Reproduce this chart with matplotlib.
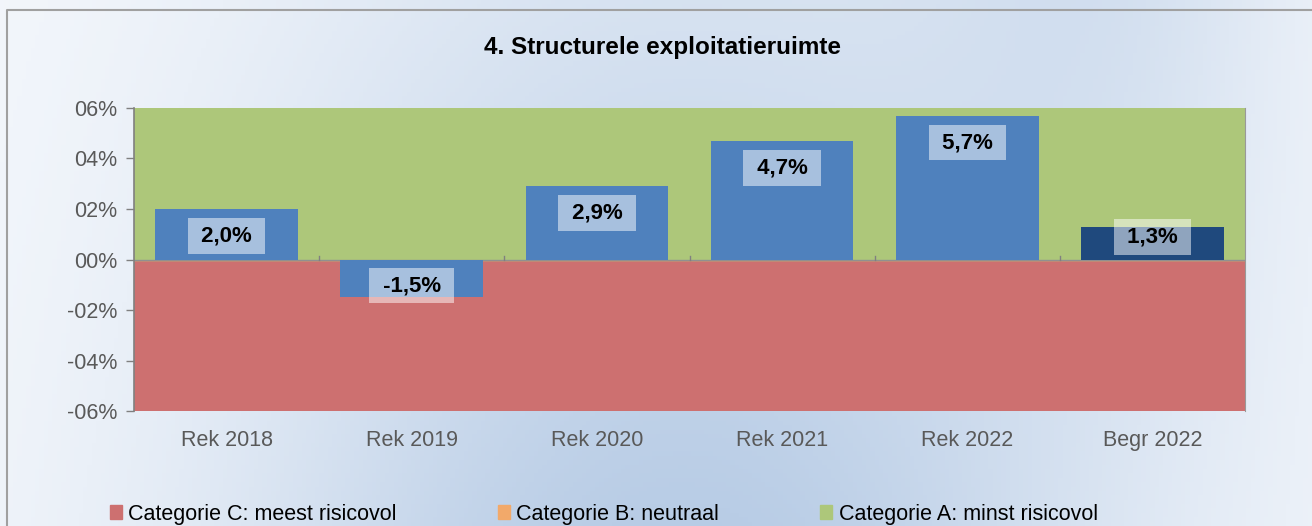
import matplotlib.pyplot as plt
import numpy as np

plt.rcParams['font.family'] = ['Liberation Sans', 'DejaVu Sans']

categories = ["Rek 2018", "Rek 2019", "Rek 2020", "Rek 2021", "Rek 2022", "Begr 2022"]
values = [2.0, -1.5, 2.9, 4.7, 5.7, 1.3]
value_labels = ["2,0%", "-1,5%", "2,9%", "4,7%", "5,7%", "1,3%"]
bar_colors = ["#4F81BD", "#4F81BD", "#4F81BD", "#4F81BD", "#4F81BD", "#1F497D"]
y_ticks = [-6, -4, -2, 0, 2, 4, 6]
y_tick_labels = ["-06%", "-04%", "-02%", "00%", "02%", "04%", "06%"]
band_labels = ["Categorie C: meest risicovol", "Categorie B: neutraal", "Categorie A: minst risicovol"]
band_colors = ["#CD7070", "#F2A96A", "#ADC77A"]

fig = plt.figure(figsize=(13.12, 5.26), dpi=100)

# background gradient
bg = fig.add_axes([0, 0, 1, 1], zorder=-10)
xx, yy = np.meshgrid(np.linspace(0, 1, 300), np.linspace(0, 1, 120))
f = np.exp(-((xx - 0.52) / 0.36) ** 2) * (0.5 + 0.5 * yy)
f = np.clip(f + 0.35 * np.exp(-((xx - 0.85) / 0.15) ** 2) * (1 - yy), 0, 1)
light = np.array([0.965, 0.975, 0.99])
blue = np.array([0.72, 0.80, 0.90])
img = light[None, None, :] * (1 - f[..., None]) + blue[None, None, :] * f[..., None]
bg.imshow(img, aspect='auto', extent=[0, 1, 0, 1], origin='upper')
bg.plot([0.0055, 0.0055, 1.0], [0.0, 0.981, 0.981], color='#A0A0A0', lw=1.5)
bg.set_xlim(0, 1)
bg.set_ylim(0, 1)
bg.axis('off')

ax = fig.add_axes([0.1021, 0.2186, 0.847, 0.5761])
ax.set_facecolor('none')

x = np.arange(len(categories))
ax.axhspan(-6, 0, color=band_colors[0], zorder=0, label=band_labels[0])
ax.axhspan(0, 0, color=band_colors[1], zorder=0, label=band_labels[1])
ax.axhspan(0, 6, color=band_colors[2], zorder=0, label=band_labels[2])

ax.bar(x, values, width=0.77, color=bar_colors, zorder=2)

# labels at inside end, pulled in when the bar is short
for xi, v, lab in zip(x, values, value_labels):
    if abs(v) >= 1.9:
        ypos = v - np.sign(v) * 1.07
    else:
        ypos = v * 0.69
    ax.text(xi, ypos, " " + lab + " ", ha='center', va='center', fontsize=16, fontweight='bold',
            color='black', zorder=4,
            bbox=dict(boxstyle='square,pad=0.33', fc='white', ec='none', alpha=0.5))

ax.set_xlim(-0.5, len(categories) - 0.5)
ax.set_ylim(-6, 6)
ax.set_yticks(y_ticks)
ax.set_yticklabels(y_tick_labels)
ax.set_xticks(x)
ax.set_xticklabels(categories)
ax.tick_params(axis='y', labelsize=15.5, labelcolor='#595959', color='#808080', length=6, width=1, pad=6)
ax.tick_params(axis='x', labelsize=15.5, labelcolor='#595959', length=0, pad=14)
for xb in np.arange(0.5, len(categories) - 0.5, 1):
    ax.plot([xb, xb], [0, 0.15], color='#808080', lw=1, zorder=3)
ax.axhline(0, color='#909090', lw=1, zorder=1)

for s in ['top', 'bottom']:
    ax.spines[s].set_visible(False)
ax.spines['left'].set_color('#808080')
ax.spines['right'].set_color('#999999')
ax.spines['left'].set_linewidth(1.2)

fig.text(0.505, 0.91, "4. Structurele exploitatieruimte", ha='center', va='center',
         fontsize=17.5, fontweight='bold', color='black')

fig.legend(loc='lower left', bbox_to_anchor=(0.069, -0.034), ncol=3, frameon=False,
           fontsize=15.5, handlelength=0.55, handleheight=0.6, handletextpad=0.3,
           columnspacing=4.7)

fig.savefig("out.png", dpi=100)
